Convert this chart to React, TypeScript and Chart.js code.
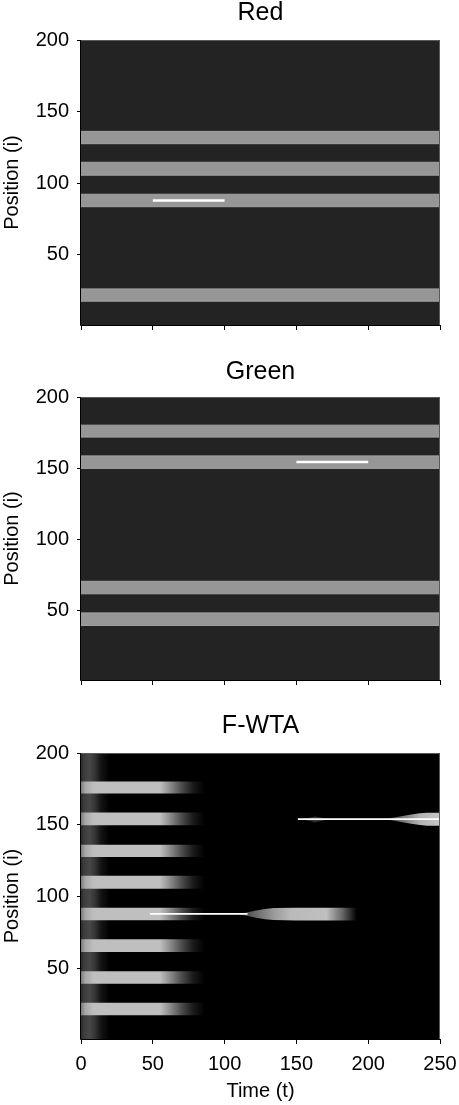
import React, { useEffect, useRef } from 'react';
import { Chart, registerables } from 'chart.js';

Chart.register(...registerables);

const FONT = '"Liberation Sans", Arial, Helvetica, sans-serif';
Chart.defaults.font.family = FONT;
Chart.defaults.color = '#000';

// ---------- data ----------
const timeTicks = [0, 50, 100, 150, 200, 250];
const positionTicks = [50, 100, 150, 200];
const timeRange = [0, 250];
const positionRange = [1, 200];

const redBandLow = [17.6, 83.6, 105.6, 127.6];
const redBandHigh = [26.2, 92.3, 114.6, 136.2];
const redCueTime = [50, 100];
const redCuePosition = [88, 88];

const greenBandLow = [39.4, 61.6, 149.8, 171.8];
const greenBandHigh = [48.2, 70.4, 158.6, 180.2];
const greenCueTime = [150, 200];
const greenCuePosition = [154.3, 154.3];

const wtaEdgeTime = [0, 2, 6, 10, 14, 20];
const wtaEdgeLevel = [0.16, 0.24, 0.28, 0.2, 0.08, 0];
const wtaBandTime = [0, 3, 9, 55, 62, 70, 78, 86];
const wtaBandLevel = [0.48, 0.66, 0.75, 0.75, 0.55, 0.3, 0.1, 0];

const winnerATime = [110, 116, 122, 128, 134, 150, 192];
const winnerAHigh = [88.2, 89.2, 90.4, 91.4, 92.1, 92.3, 92.3];
const winnerALow = [87.8, 86.6, 85.4, 84.4, 83.8, 83.4, 83.4];
const winnerAShadeTime = [110, 122, 134, 146, 171, 182, 192];
const winnerAShadeLevel = [0.22, 0.42, 0.6, 0.73, 0.75, 0.4, 0];
const winnerATraceTime = [48, 116];
const winnerATracePosition = [88, 88];

const winnerBTime = [212, 218, 224, 230, 236, 241, 250];
const winnerBHigh = [154.3, 155.2, 156.2, 157.2, 158, 158.4, 158.4];
const winnerBLow = [153.9, 152.9, 151.9, 150.8, 149.9, 149.4, 149.4];
const winnerBShadeTime = [212, 224, 236, 250];
const winnerBShadeLevel = [0.25, 0.48, 0.7, 0.78];
const winnerBTraceTime = [151, 250];
const winnerBTracePosition = [154, 154];

const echoTime = [155, 163, 172];
const echoHigh = [154.2, 155.8, 154.2];
const echoLow = [153.8, 151.8, 153.8];
const echoLevel = [0.2, 0.2, 0.2];

// ---------- helpers ----------
const gray = (l: number) => {
  const v = Math.round(l * 255);
  return `rgb(${v},${v},${v})`;
};

function hGradient(chart: any, times: number[], levels: number[]) {
  const { ctx, chartArea, scales } = chart;
  if (!chartArea || !scales.x) return 'rgba(0,0,0,0)';
  const x = scales.x;
  const x0 = x.getPixelForValue(timeRange[0]);
  const x1 = x.getPixelForValue(timeRange[1]);
  const g = ctx.createLinearGradient(x0, 0, x1, 0);
  times.forEach((t, i) => {
    const off = Math.min(1, Math.max(0, (x.getPixelForValue(t) - x0) / (x1 - x0)));
    g.addColorStop(off, gray(levels[i]));
  });
  return g;
}

const pts = (xs: number[], ys: number[]) => xs.map((x, i) => ({ x, y: ys[i] }));
const flat = (xs: number[], y: number) => xs.map((x) => ({ x, y }));

function bandPair(xs: number[], lo: number[], hi: number[], fillColor: any, order: number, edge?: string) {
  return [
    {
      data: pts(xs, lo),
      borderColor: edge || 'transparent',
      borderWidth: edge ? 1 : 0,
      pointRadius: 0,
      fill: false,
      order,
      tension: 0,
    },
    {
      data: pts(xs, hi),
      borderColor: edge || 'transparent',
      borderWidth: edge ? 1 : 0,
      pointRadius: 0,
      fill: '-1',
      backgroundColor: fillColor,
      order,
      tension: 0,
    },
  ];
}

function traceLine(xs: number[], ys: number[], width: number) {
  return {
    data: pts(xs, ys),
    borderColor: '#ffffff',
    borderWidth: width,
    pointRadius: 0,
    fill: false,
    order: 0,
  };
}

const framePlugin = {
  id: 'frame',
  beforeDatasetsDraw(chart: any, _args: any, opts: any) {
    const { ctx, chartArea: a } = chart;
    ctx.save();
    ctx.fillStyle = opts.bg || '#000';
    ctx.fillRect(a.left, a.top, a.right - a.left, a.bottom - a.top);
    ctx.restore();
  },
  afterDatasetsDraw(chart: any) {
    const { ctx, chartArea: a } = chart;
    ctx.save();
    ctx.lineWidth = 1;
    ctx.strokeStyle = '#5a5a5a';
    ctx.beginPath();
    ctx.moveTo(a.left, a.top + 0.5);
    ctx.lineTo(a.right - 0.5, a.top + 0.5);
    ctx.lineTo(a.right - 0.5, a.bottom);
    ctx.stroke();
    ctx.strokeStyle = '#000';
    ctx.beginPath();
    ctx.moveTo(a.left - 0.5, a.top);
    ctx.lineTo(a.left - 0.5, a.bottom + 0.5);
    ctx.lineTo(a.right, a.bottom + 0.5);
    ctx.stroke();
    ctx.restore();
  },
};

function makeOptions(p: {
  title: string;
  padTop: number;
  padBottom: number;
  xHeight: number;
  showX: boolean;
  bg: string;
}) {
  return {
    animation: false,
    responsive: false,
    maintainAspectRatio: false,
    events: [],
    layout: { padding: { left: 0, right: 19, top: 0, bottom: 0 } },
    plugins: {
      legend: { display: false },
      tooltip: { enabled: false },
      frame: { bg: p.bg },
      title: {
        display: true,
        text: p.title,
        fullSize: false,
        color: '#000',
        font: { family: FONT, size: 25, weight: 'normal', lineHeight: 1 },
        padding: { top: p.padTop, bottom: p.padBottom },
      },
    },
    scales: {
      x: {
        type: 'linear',
        min: timeRange[0],
        max: timeRange[1],
        afterBuildTicks: (s: any) => {
          s.ticks = timeTicks.map((v) => ({ value: v }));
        },
        afterFit: (s: any) => {
          s.height = p.xHeight;
          s.paddingLeft = 0;
          s.paddingRight = 0;
        },
        ticks: {
          display: p.showX,
          color: '#000',
          font: { family: FONT, size: 20 },
          padding: 8,
          maxRotation: 0,
          autoSkip: false,
        },
        grid: { drawOnChartArea: false, drawTicks: true, tickLength: 5, color: '#000' },
        border: { display: true, color: '#000', width: 1 },
        title: {
          display: p.showX,
          text: 'Time (t)',
          color: '#000',
          font: { family: FONT, size: 20 },
          padding: { top: 0, bottom: 2 },
        },
      },
      y: {
        type: 'linear',
        min: positionRange[0],
        max: positionRange[1],
        afterBuildTicks: (s: any) => {
          s.ticks = positionTicks.map((v) => ({ value: v }));
        },
        afterFit: (s: any) => {
          s.width = 81;
        },
        ticks: {
          color: '#000',
          font: { family: FONT, size: 20 },
          padding: 8,
          autoSkip: false,
        },
        grid: { drawOnChartArea: false, drawTicks: true, tickLength: 4, color: '#000' },
        border: { display: true, color: '#000', width: 1 },
        title: {
          display: true,
          text: 'Position (i)',
          color: '#000',
          font: { family: FONT, size: 20 },
          padding: { top: 0, bottom: 0 },
        },
      },
    },
  };
}

function inputDatasets(lows: number[], highs: number[], cueT: number[], cueP: number[]) {
  const ds: any[] = [traceLine(cueT, cueP, 2.5)];
  lows.forEach((lo, i) => {
    ds.push(...bandPair(timeRange, [lo, lo], [highs[i], highs[i]], '#969696', 10, '#a3a3a3'));
  });
  return ds;
}

function wtaDatasets() {
  const ds: any[] = [];
  ds.push(traceLine(winnerATraceTime, winnerATracePosition, 1.8));
  ds.push(traceLine(winnerBTraceTime, winnerBTracePosition, 1.8));
  ds.push(
    ...bandPair(winnerATime, winnerALow, winnerAHigh, (c: any) => hGradient(c.chart, winnerAShadeTime, winnerAShadeLevel), 5)
  );
  ds.push(
    ...bandPair(winnerBTime, winnerBLow, winnerBHigh, (c: any) => hGradient(c.chart, winnerBShadeTime, winnerBShadeLevel), 5)
  );
  ds.push(...bandPair(echoTime, echoLow, echoHigh, (c: any) => hGradient(c.chart, echoTime, echoLevel), 5));
  const lows = [...redBandLow, ...greenBandLow];
  const highs = [...redBandHigh, ...greenBandHigh];
  const bandX = [wtaBandTime[0], wtaBandTime[wtaBandTime.length - 1]];
  lows.forEach((lo, i) => {
    ds.push(
      ...bandPair(bandX, [lo, lo], [highs[i], highs[i]], (c: any) => hGradient(c.chart, wtaBandTime, wtaBandLevel), 10)
    );
  });
  const edgeX = [wtaEdgeTime[0], wtaEdgeTime[wtaEdgeTime.length - 1]];
  ds.push({
    data: flat(edgeX, positionRange[1]),
    borderColor: 'transparent',
    borderWidth: 0,
    pointRadius: 0,
    fill: 'start',
    backgroundColor: (c: any) => hGradient(c.chart, wtaEdgeTime, wtaEdgeLevel),
    order: 20,
  });
  return ds;
}

function Panel({ height, build }: { height: number; build: () => any }) {
  const ref = useRef<HTMLCanvasElement>(null);
  useEffect(() => {
    const chart = new Chart(ref.current as HTMLCanvasElement, build());
    return () => chart.destroy();
  }, []);
  return <canvas ref={ref} width={459} height={height} style={{ display: 'block', width: 459, height }} />;
}

export default function App() {
  return (
    <div style={{ position: 'absolute', left: 0, top: 0, width: 459, height: 1105, background: '#fff' }}>
      <Panel
        height={345}
        build={() => ({
          type: 'line',
          data: { datasets: inputDatasets(redBandLow, redBandHigh, redCueTime, redCuePosition) },
          options: makeOptions({ title: 'Red', padTop: 1, padBottom: 14, xHeight: 20, showX: false, bg: '#232323' }),
          plugins: [framePlugin],
        })}
      />
      <Panel
        height={355}
        build={() => ({
          type: 'line',
          data: { datasets: inputDatasets(greenBandLow, greenBandHigh, greenCueTime, greenCuePosition) },
          options: makeOptions({ title: 'Green', padTop: 14.5, padBottom: 12.5, xHeight: 18, showX: false, bg: '#232323' }),
          plugins: [framePlugin],
        })}
      />
      <Panel
        height={405}
        build={() => ({
          type: 'line',
          data: { datasets: wtaDatasets() },
          options: makeOptions({ title: 'F-WTA', padTop: 14, padBottom: 14, xHeight: 66, showX: true, bg: '#000' }),
          plugins: [framePlugin],
        })}
      />
    </div>
  );
}
